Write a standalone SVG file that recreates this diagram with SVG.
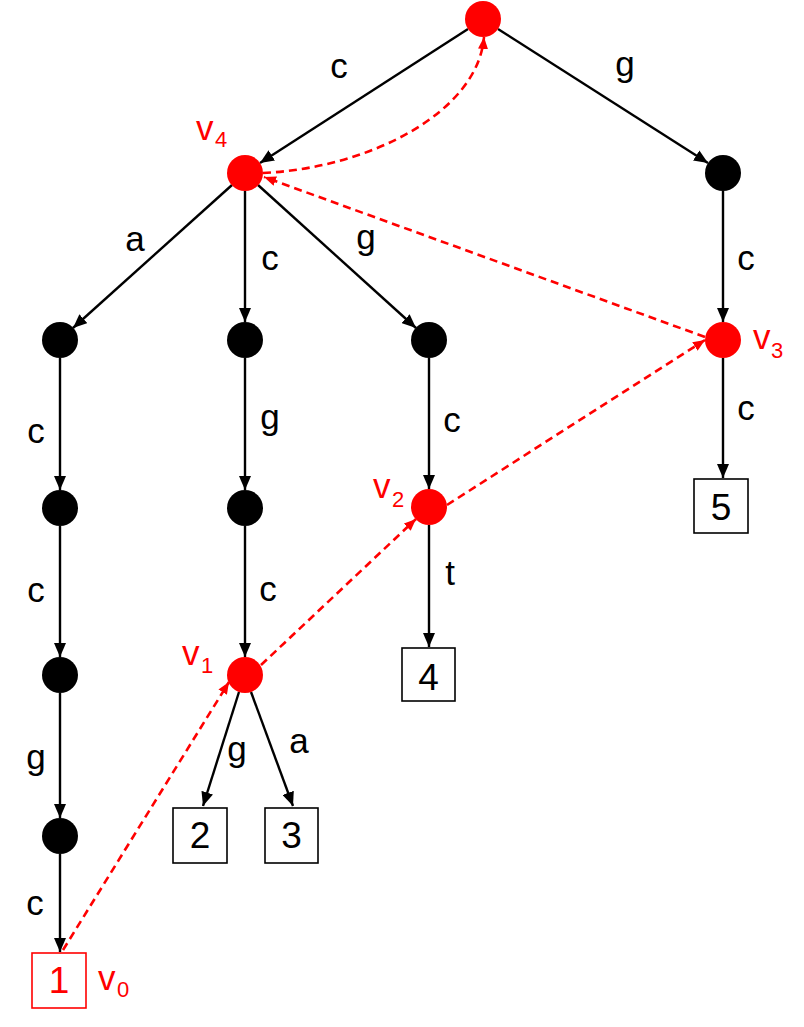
<svg xmlns="http://www.w3.org/2000/svg" width="804" height="1027" viewBox="0 0 804 1027">
<style>
.e{stroke:#000;stroke-width:2.4;fill:none;marker-end:url(#ab)}
.s{stroke:#f00;stroke-width:2.6;fill:none;stroke-dasharray:8 5;marker-end:url(#ar)}
.bn{fill:#000}
.rn{fill:#f00}
.box{fill:#fff;stroke:#000;stroke-width:1.6}
.lb{font-family:"Liberation Sans",Arial,sans-serif;font-size:35px;fill:#000;text-anchor:middle}
.dg{font-family:"Liberation Sans",Arial,sans-serif;font-size:37px;fill:#000;text-anchor:middle}
.rl{font-family:"Liberation Sans",Arial,sans-serif;font-size:35px;fill:#f00}
.sub{font-size:22px}
</style>
<defs>
<marker id="ab" markerUnits="userSpaceOnUse" markerWidth="15" markerHeight="12" refX="14" refY="6" orient="auto"><path d="M0,0 L14,6 L0,12 z" fill="#000"/></marker>
<marker id="ar" markerUnits="userSpaceOnUse" markerWidth="13" markerHeight="10" refX="12" refY="5" orient="auto"><path d="M0,0 L12,5 L0,10 z" fill="#f00"/></marker>
</defs>
<g id="connectors">
<line class="e" x1="468" y1="29" x2="260" y2="163"/>
<line class="e" x1="498" y1="29" x2="708" y2="163"/>
<line class="e" x1="232" y1="185" x2="73" y2="328"/>
<line class="e" x1="245" y1="191" x2="245" y2="322"/>
<line class="e" x1="258" y1="185" x2="416" y2="328"/>
<line class="e" x1="723" y1="191" x2="723" y2="322"/>
<line class="e" x1="60" y1="358" x2="60" y2="490"/>
<line class="e" x1="60" y1="526" x2="60" y2="657"/>
<line class="e" x1="60" y1="693" x2="60" y2="818"/>
<line class="e" x1="60" y1="854" x2="60" y2="952"/>
<line class="e" x1="245" y1="358" x2="245" y2="490"/>
<line class="e" x1="245" y1="526" x2="245" y2="657"/>
<line class="e" x1="429" y1="358" x2="429" y2="489"/>
<line class="e" x1="429" y1="525" x2="429" y2="647"/>
<line class="e" x1="723" y1="358" x2="723" y2="478"/>
<line class="e" x1="239" y1="692" x2="203" y2="806"/>
<line class="e" x1="251" y1="692" x2="293" y2="806"/>
<line class="s" x1="63" y1="950" x2="229" y2="682"/>
<line class="s" x1="261" y1="665" x2="416" y2="519"/>
<line class="s" x1="447" y1="505" x2="705" y2="340"/>
<line class="s" x1="705" y1="337" x2="264" y2="177"/>
<path class="s" d="M263,173 C370,168 478,112 484,37"/>
</g>
<g id="root"><circle class="rn" cx="483" cy="19" r="18"/></g>
<g id="v4"><circle class="rn" cx="245" cy="173" r="18"/><text class="rl" x="196" y="140">v<tspan class="sub" x="215" y="147">4</tspan></text></g>
<g id="n_g"><circle class="bn" cx="723" cy="173" r="18"/></g>
<g id="v3"><circle class="rn" cx="723" cy="340" r="18"/><text class="rl" x="753" y="349">v<tspan class="sub" x="771" y="358">3</tspan></text></g>
<g id="n_a"><circle class="bn" cx="60" cy="340" r="18"/></g>
<g id="n_ac"><circle class="bn" cx="60" cy="508" r="18"/></g>
<g id="n_acc"><circle class="bn" cx="60" cy="675" r="18"/></g>
<g id="n_accg"><circle class="bn" cx="60" cy="836" r="18"/></g>
<g id="n_cc"><circle class="bn" cx="245" cy="340" r="18"/></g>
<g id="n_ccg"><circle class="bn" cx="245" cy="508" r="18"/></g>
<g id="v1"><circle class="rn" cx="245" cy="675" r="18"/><text class="rl" x="182" y="665">v<tspan class="sub" x="201" y="673">1</tspan></text></g>
<g id="n_cg"><circle class="bn" cx="429" cy="340" r="18"/></g>
<g id="v2"><circle class="rn" cx="429" cy="507" r="18"/><text class="rl" x="373" y="498">v<tspan class="sub" x="392" y="507">2</tspan></text></g>
<g id="leaf1"><rect x="32" y="953" width="54" height="55" fill="#fff" stroke="#f00" stroke-width="1.6"/><text class="dg" x="59" y="993" style="fill:#f00">1</text><text class="rl" x="98" y="990">v<tspan class="sub" x="117" y="997">0</tspan></text></g>
<g id="leaf2"><rect class="box" x="173" y="808" width="54" height="55"/><text class="dg" x="200" y="848">2</text></g>
<g id="leaf3"><rect class="box" x="265" y="808" width="53" height="55"/><text class="dg" x="291.5" y="848">3</text></g>
<g id="leaf4"><rect class="box" x="402" y="648" width="53" height="53"/><text class="dg" x="428.5" y="690">4</text></g>
<g id="leaf5"><rect class="box" x="694" y="479" width="54" height="54"/><text class="dg" x="721" y="520">5</text></g>
<g id="labels">
<text class="lb" x="339" y="78">c</text>
<text class="lb" x="625" y="76">g</text>
<text class="lb" x="135" y="251">a</text>
<text class="lb" x="270" y="270">c</text>
<text class="lb" x="366" y="249">g</text>
<text class="lb" x="746" y="270">c</text>
<text class="lb" x="36" y="443">c</text>
<text class="lb" x="36" y="602">c</text>
<text class="lb" x="36" y="769">g</text>
<text class="lb" x="35" y="915">c</text>
<text class="lb" x="270" y="429">g</text>
<text class="lb" x="268" y="601">c</text>
<text class="lb" x="452" y="432">c</text>
<text class="lb" x="746" y="420">c</text>
<text class="lb" x="450" y="585">t</text>
<text class="lb" x="237" y="761">g</text>
<text class="lb" x="299" y="753">a</text>
</g>
</svg>
